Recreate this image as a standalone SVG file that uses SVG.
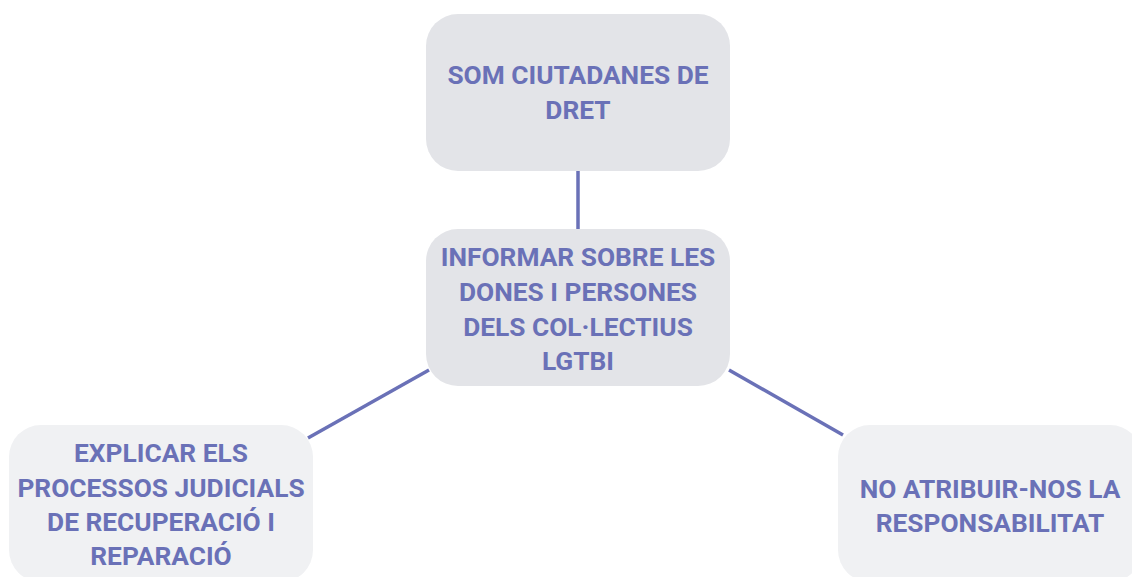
<svg xmlns="http://www.w3.org/2000/svg" width="1132" height="577" viewBox="0 0 1132 577">
<style>
.box{fill:#e3e4e8}
.box2{fill:#f0f1f3}
.t{font-family:Roboto,"Liberation Sans",sans-serif;font-weight:bold;font-size:26.3px;fill:#6a71b7;text-anchor:middle}
.c{stroke:#6a71b7;stroke-width:3.5;fill:none}
</style>
<rect width="1132" height="577" fill="#ffffff"/>
<g id="connectors">
<line class="c" x1="578" y1="171" x2="578" y2="229"/>
<line class="c" x1="429" y1="370" x2="308" y2="438"/>
<line class="c" x1="729" y1="370" x2="843" y2="435"/>
</g>
<g id="n1">
<rect class="box" x="426" y="14" width="304" height="157" rx="32"/>
<text class="t" x="578" y="84">SOM CIUTADANES DE</text>
<text class="t" x="578" y="119">DRET</text>
</g>
<g id="n2">
<rect class="box" x="426" y="229" width="304" height="157" rx="32"/>
<text class="t" x="578" y="266">INFORMAR SOBRE LES</text>
<text class="t" x="578" y="301">DONES I PERSONES</text>
<text class="t" x="578" y="336">DELS COL·LECTIUS</text>
<text class="t" x="578" y="370">LGTBI</text>
</g>
<g id="n3">
<rect class="box2" x="9" y="425" width="304" height="157" rx="32"/>
<text class="t" x="161" y="462">EXPLICAR ELS</text>
<text class="t" x="161" y="497">PROCESSOS JUDICIALS</text>
<text class="t" x="161" y="531">DE RECUPERACIÓ I</text>
<text class="t" x="161" y="565">REPARACIÓ</text>
</g>
<g id="n4">
<rect class="box2" x="838" y="425" width="304" height="157" rx="32"/>
<text class="t" x="990" y="498">NO ATRIBUIR-NOS LA</text>
<text class="t" x="990" y="532">RESPONSABILITAT</text>
</g>
</svg>
